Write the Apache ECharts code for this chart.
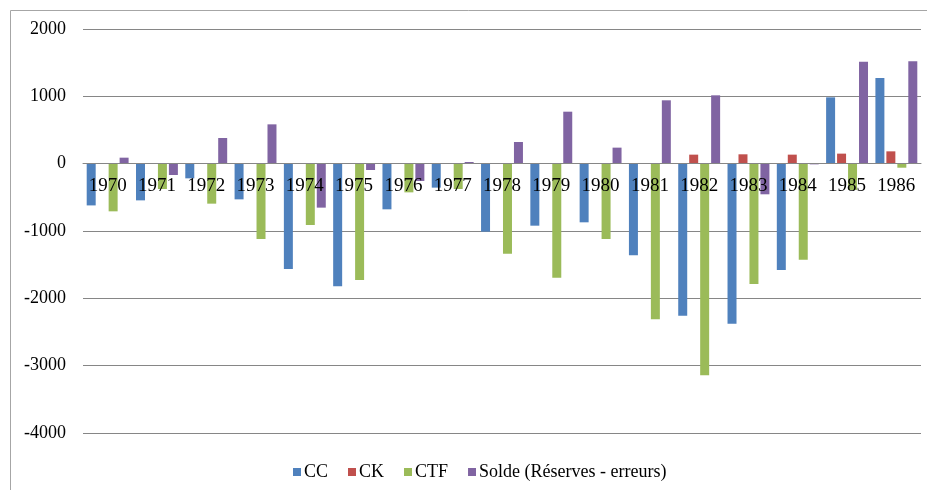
<!DOCTYPE html>
<html>
<head>
<meta charset="utf-8">
<script src="https://cdn.jsdelivr.net/npm/echarts@6/dist/echarts.min.js"></script>
<style>
html,body{margin:0;padding:0;background:#fff;}
#c{width:927px;height:490px;}
</style>
</head>
<body>
<div id="c"></div>
<script>
var categories = ['1970','1971','1972','1973','1974','1975','1976','1977','1978','1979','1980','1981','1982','1983','1984','1985','1986'];
var CC    = [-620,-545,-218,-530,-1564,-1822,-678,-356,-1010,-921,-871,-1361,-2257,-2376,-1579,985,1272];
var CK    = [0,0,0,0,0,0,0,0,0,0,0,0,134,139,134,149,183];
var CTF   = [-708,-376,-594,-1119,-911,-1728,-426,-376,-1337,-1693,-1119,-2312,-3144,-1787,-1426,-390,-60];
var Solde = [89,-168,381,584,-653,-94,-257,25,322,772,238,941,1015,-455,-10,1515,1520];
var seriesNames = ['CC','CK','CTF','Solde (Réserves - erreurs)'];
var yMin = -4000, yMax = 2000, yStep = 1000;

var font = '"Liberation Serif", "DejaVu Serif", serif';
var colors = ['#4F81BD','#C0504D','#9BBB59','#8064A2'];
var gridTop = 29, gridBottom = 57, H = 490;
var plotH = H - gridTop - gridBottom;
var zeroOffset = plotH * (0 - yMin) / (yMax - yMin); // distance of zero line above grid bottom

var chart = echarts.init(document.getElementById('c'), null, {renderer:'canvas'});
function mk(name, data, i){
  return {
    name: name, type: 'bar', data: data,
    barGap: '22%', barCategoryGap: '15%',
    itemStyle: {color: colors[i]},
    emphasis: {disabled: true}
  };
}
chart.setOption({
  animation: false,
  color: colors,
  grid: {left: 83, right: 6, top: gridTop, bottom: gridBottom, containLabel: false},
  graphic: [
    {type:'line', shape:{x1:10.5,y1:10.5,x2:927,y2:10.5}, style:{stroke:'#a6a6a6', lineWidth:1}},
    {type:'line', shape:{x1:10.5,y1:10.5,x2:10.5,y2:490}, style:{stroke:'#a6a6a6', lineWidth:1}}
  ],
  legend: {
    data: seriesNames,
    left: 288, top: 458,
    itemWidth: 8, itemHeight: 8, itemGap: 20,
    icon: 'rect',
    textStyle: {fontFamily: font, fontSize: 18, color: '#000', padding:[0,0,0,-2]}
  },
  xAxis: {
    type: 'category', data: categories,
    position: 'bottom', offset: -zeroOffset,
    z: 10,
    axisLine: {onZero: false, lineStyle: {color: '#868686', width: 1}},
    axisTick: {show: false},
    axisLabel: {fontFamily: font, fontSize: 19, color: '#000', margin: 13, interval: 0}
  },
  yAxis: {
    type: 'value', min: yMin, max: yMax, interval: yStep,
    axisLine: {show: false}, axisTick: {show: false},
    splitLine: {lineStyle: {color: '#868686', width: 1}},
    axisLabel: {fontFamily: font, fontSize: 18, color: '#000', margin: 17, formatter: function(v){return String(v);}}
  },
  series: [mk(seriesNames[0], CC, 0), mk(seriesNames[1], CK, 1), mk(seriesNames[2], CTF, 2), mk(seriesNames[3], Solde, 3)]
});
</script>
</body>
</html>
